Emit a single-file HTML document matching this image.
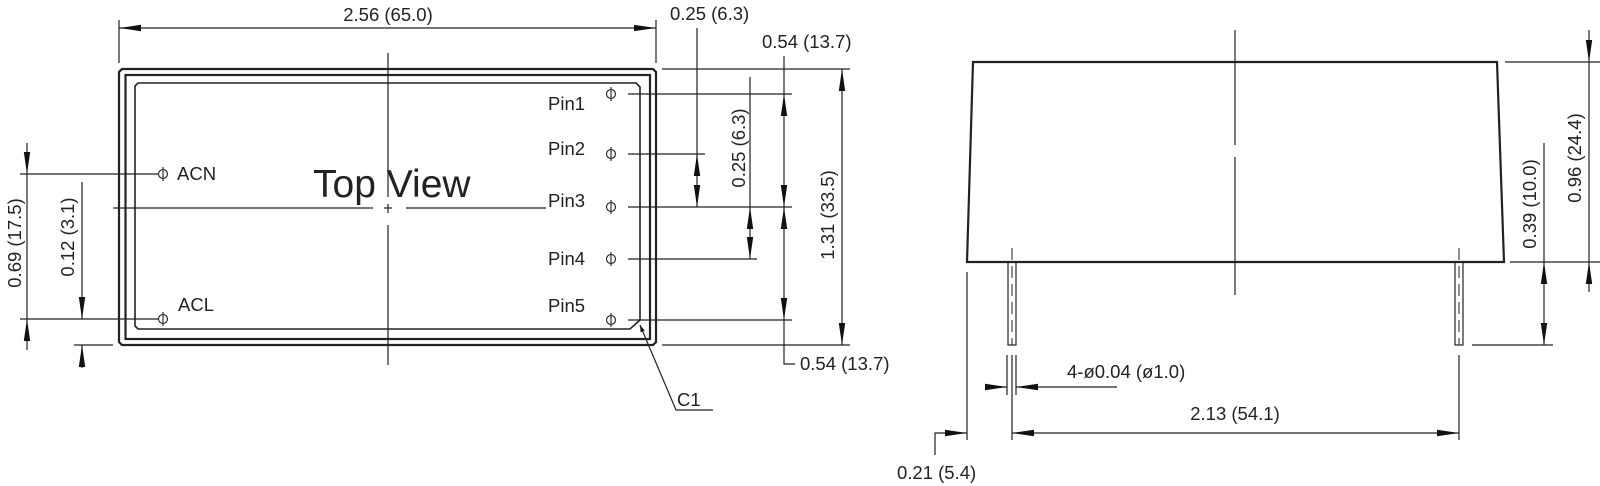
<!DOCTYPE html>
<html><head><meta charset="utf-8"><style>
html,body{margin:0;padding:0;background:#fff;}
svg{display:block;}
text{font-family:"Liberation Sans",sans-serif;fill:#222;}
</style></head><body>
<svg width="1600" height="486" viewBox="0 0 1600 486" xmlns="http://www.w3.org/2000/svg">
<defs>
<marker id="a" viewBox="0 0 10 10" refX="10" refY="5" markerWidth="7" markerHeight="7" markerUnits="userSpaceOnUse" orient="auto-start-reverse"><path d="M0,1.8 L10,5 L0,8.2 Z" fill="#111"/></marker>
<marker id="b" viewBox="0 0 22 8" refX="22" refY="4" markerWidth="22" markerHeight="8" markerUnits="userSpaceOnUse" orient="auto-start-reverse"><path d="M0,0.8 L22,4 L0,7.2 Z" fill="#111"/></marker>
</defs>
<g stroke="#222" stroke-width="1.2" fill="none">
<path d="M122,69 L653,69 L656,72 L656,342 L653,345 L122,345 L119,342 L119,72 Z" stroke-width="2.2"/>
<rect x="125.5" y="75" width="524.5" height="264" stroke-width="2.2"/>
<path d="M138,83 L636,83 L640,87 L640,320 L630,329 L138,329 L135,326 L135,86 Z" stroke-width="1.6"/>
<line x1="388" y1="53" x2="388" y2="197"/>
<line x1="388" y1="225" x2="388" y2="365"/>
<line x1="388" y1="204" x2="388" y2="213"/>
<line x1="384" y1="208" x2="392" y2="208"/>
<line x1="113" y1="208" x2="373" y2="208"/>
<line x1="406" y1="208" x2="546" y2="208"/>
<g stroke-width="1.1">
<circle cx="163" cy="174" r="4.5"/><line x1="163" y1="167" x2="163" y2="181"/>
<circle cx="163" cy="319" r="4.5"/><line x1="163" y1="312" x2="163" y2="326"/>
<circle cx="611" cy="94" r="4.5"/><line x1="611" y1="87" x2="611" y2="101"/>
<circle cx="611" cy="154" r="4.5"/><line x1="611" y1="147" x2="611" y2="161"/>
<circle cx="611" cy="207" r="4.5"/><line x1="611" y1="200" x2="611" y2="214"/>
<circle cx="611" cy="259" r="4.5"/><line x1="611" y1="252" x2="611" y2="266"/>
<circle cx="611" cy="320" r="4.5"/><line x1="611" y1="313" x2="611" y2="327"/>
</g>
<line x1="119" y1="20" x2="119" y2="63"/>
<line x1="656" y1="20" x2="656" y2="63"/>
<line x1="119" y1="28" x2="656" y2="28" marker-start="url(#b)" marker-end="url(#b)"/>
<line x1="20" y1="174" x2="158" y2="174"/>
<line x1="20" y1="319" x2="158" y2="319"/>
<line x1="74" y1="345" x2="113" y2="345"/>
<line x1="27" y1="143" x2="27" y2="174" marker-end="url(#b)"/>
<line x1="27" y1="350" x2="27" y2="319" marker-end="url(#b)"/>
<line x1="27" y1="174" x2="27" y2="319"/>
<line x1="82" y1="182" x2="82" y2="319" marker-end="url(#b)"/>
<line x1="82" y1="368" x2="82" y2="345" marker-end="url(#b)"/>
<line x1="628" y1="94" x2="792" y2="94"/>
<line x1="628" y1="154" x2="705" y2="154"/>
<line x1="628" y1="207" x2="792" y2="207"/>
<line x1="628" y1="259" x2="757" y2="259"/>
<line x1="628" y1="320" x2="792" y2="320"/>
<line x1="662" y1="69" x2="850" y2="69"/>
<line x1="662" y1="345" x2="850" y2="345"/>
<line x1="697" y1="28" x2="697" y2="154"/>
<line x1="697" y1="154" x2="697" y2="207" marker-start="url(#b)" marker-end="url(#b)"/>
<line x1="750" y1="77" x2="750" y2="207"/>
<line x1="750" y1="207" x2="750" y2="259" marker-start="url(#b)" marker-end="url(#b)"/>
<line x1="784" y1="56" x2="784" y2="94"/>
<line x1="784" y1="94" x2="784" y2="207" marker-start="url(#b)" marker-end="url(#b)"/>
<line x1="784" y1="207" x2="784" y2="320" marker-start="url(#b)" marker-end="url(#b)"/>
<polyline points="784,320 784,364 795,364"/>
<line x1="842" y1="69" x2="842" y2="345" marker-start="url(#b)" marker-end="url(#b)"/>
<polyline points="713,410 676,410 640,325" marker-end="url(#a)"/>
<path d="M973,62 L1497,62 L1504,262 L967,262 Z" stroke-width="2.2"/>
<line x1="1235" y1="30" x2="1235" y2="145"/>
<line x1="1235" y1="157" x2="1235" y2="295"/>
<rect x="1008" y="262" width="8" height="83"/>
<line x1="1012" y1="248" x2="1012" y2="345" stroke-dasharray="12,6" stroke-width="1"/>
<rect x="1455" y="262" width="8" height="83"/>
<line x1="1459" y1="248" x2="1459" y2="345" stroke-dasharray="12,6" stroke-width="1"/>
<line x1="1505" y1="62" x2="1600" y2="62"/>
<line x1="1510" y1="262" x2="1600" y2="262"/>
<line x1="1472" y1="345" x2="1553" y2="345"/>
<line x1="1589" y1="30" x2="1589" y2="62" marker-end="url(#b)"/>
<line x1="1589" y1="62" x2="1589" y2="262"/>
<line x1="1589" y1="292" x2="1589" y2="262" marker-end="url(#b)"/>
<line x1="1544" y1="143" x2="1544" y2="262"/>
<line x1="1544" y1="262" x2="1544" y2="345" marker-start="url(#b)" marker-end="url(#b)"/>
<line x1="967" y1="272" x2="967" y2="440"/>
<line x1="1012" y1="355" x2="1012" y2="440"/>
<line x1="1007" y1="355" x2="1007" y2="395"/>
<line x1="1016" y1="355" x2="1016" y2="395"/>
<line x1="1459" y1="355" x2="1459" y2="440"/>
<line x1="985" y1="387" x2="1007" y2="387" marker-end="url(#b)"/>
<line x1="1117" y1="387" x2="1016" y2="387" marker-end="url(#b)"/>
<polyline points="935,455 935,433 967,433" marker-end="url(#b)"/>
<line x1="1012" y1="433" x2="1459" y2="433" marker-start="url(#b)" marker-end="url(#b)"/>
</g>
<g font-size="18.5">
<text x="388" y="21" text-anchor="middle">2.56 (65.0)</text>
<text x="670" y="20">0.25 (6.3)</text>
<text x="762" y="48">0.54 (13.7)</text>
<text x="800" y="370">0.54 (13.7)</text>
<text x="677" y="406">C1</text>
<text x="177" y="180">ACN</text>
<text x="178" y="311">ACL</text>
<text x="548" y="110">Pin1</text>
<text x="548" y="155">Pin2</text>
<text x="548" y="207">Pin3</text>
<text x="548" y="265">Pin4</text>
<text x="548" y="312">Pin5</text>
<text transform="translate(21,243) rotate(-90)" text-anchor="middle">0.69 (17.5)</text>
<text transform="translate(74,237) rotate(-90)" text-anchor="middle">0.12 (3.1)</text>
<text transform="translate(745,148) rotate(-90)" text-anchor="middle">0.25 (6.3)</text>
<text transform="translate(834,215) rotate(-90)" text-anchor="middle">1.31 (33.5)</text>
<text transform="translate(1536,204) rotate(-90)" text-anchor="middle">0.39 (10.0)</text>
<text transform="translate(1581,158) rotate(-90)" text-anchor="middle">0.96 (24.4)</text>
<text x="1067" y="378">4-ø0.04 (ø1.0)</text>
<text x="1235" y="420" text-anchor="middle">2.13 (54.1)</text>
<text x="897" y="479">0.21 (5.4)</text>
</g>
<text x="313" y="197" font-size="39">Top View</text>
</svg>
</body></html>
